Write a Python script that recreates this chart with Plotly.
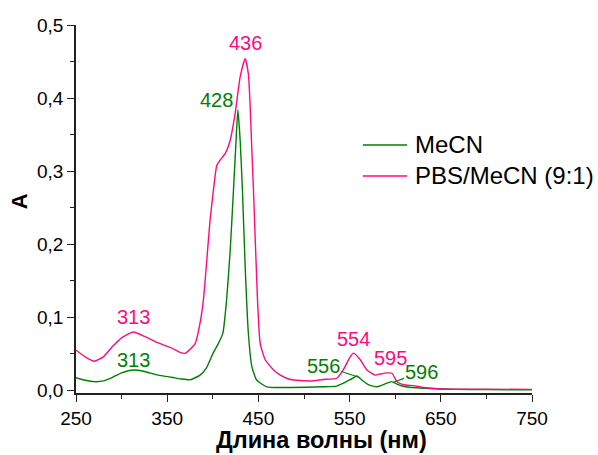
import plotly.graph_objects as go

# ---- data ----
mecn_nm = [250, 260, 270, 280, 290, 300, 313, 325, 340, 355, 365, 375, 386, 393, 400, 406, 411,
           415, 419, 422.5, 425.5, 427.5, 430, 432.5, 435.5, 439, 442.8, 448, 459, 474, 485, 521,
           536, 543, 551, 558, 563.5, 571, 580, 589, 596, 604, 611, 631, 666, 700, 750]
mecn_a = [0.0175, 0.014, 0.012, 0.013, 0.018, 0.024, 0.028, 0.026, 0.021, 0.018, 0.0157, 0.0145,
          0.021, 0.031, 0.050, 0.064, 0.078, 0.122, 0.19, 0.27, 0.342, 0.384, 0.342, 0.274, 0.169,
          0.078, 0.033, 0.0143, 0.005, 0.004, 0.004, 0.005, 0.006, 0.0098, 0.015, 0.0198, 0.0143,
          0.0075, 0.005, 0.009, 0.012, 0.0075, 0.005, 0.003, 0.0015, 0.0012, 0.0008]

pbs_nm = [250, 260, 270, 280, 290, 300, 313, 325, 340, 355, 364, 370, 380.6, 386, 389.7, 393.4,
          397, 400.7, 404.4, 408, 413.5, 419, 424.5, 430, 435.5, 439, 441, 442.8, 444.6, 449, 452,
          457.5, 466.6, 474, 485, 507, 521, 536, 543, 550.6, 554.5, 561.6, 569, 578, 583.5, 591,
          596.4, 602, 611, 620, 631, 649, 671, 750]
pbs_a = [0.055, 0.046, 0.040, 0.046, 0.060, 0.072, 0.080, 0.074, 0.065, 0.058, 0.052, 0.051,
         0.064, 0.092, 0.124, 0.178, 0.233, 0.274, 0.308, 0.315, 0.324, 0.342, 0.379, 0.429, 0.454,
         0.433, 0.388, 0.329, 0.274, 0.124, 0.064, 0.042, 0.028, 0.021, 0.015, 0.013, 0.015, 0.0167,
         0.028, 0.046, 0.051, 0.042, 0.028, 0.021, 0.0225, 0.024, 0.0235, 0.012, 0.0075, 0.0066,
         0.004, 0.002, 0.0016, 0.0015]

series_names = ["MeCN", "PBS/MeCN (9:1)"]

x_ticks = [250, 350, 450, 550, 650, 750]
y_ticks = [0.0, 0.1, 0.2, 0.3, 0.4, 0.5]
y_ticktext = ["0,0", "0,1", "0,2", "0,3", "0,4", "0,5"]

# peak labels: text, x, y
pink_labels = [("436", 435.5, 0.475), ("313", 313, 0.100), ("554", 554.3, 0.0703), ("595", 594.5, 0.044)]
green_labels = [("428", 404.4, 0.397), ("313", 313, 0.0417)]
# labels with leader lines: text, text x, text y, tip x, tip y
green_leader = [("556", 521.3, 0.034, 559.4, 0.0184), ("596", 629.3, 0.0257, 598.2, 0.0112)]

GREEN = "#008000"
PINK = "#FF0A80"
FONT = "Liberation Sans"
AX = "#222222"
colors = [GREEN, PINK]

fig = go.Figure()
fig.add_trace(go.Scatter(x=mecn_nm, y=mecn_a, mode="lines", name=series_names[0],
                         line=dict(color=GREEN, width=1.4, shape="spline", smoothing=0.5)))
fig.add_trace(go.Scatter(x=pbs_nm, y=pbs_a, mode="lines", name=series_names[1],
                         line=dict(color=PINK, width=1.4, shape="spline", smoothing=0.5)))

ann = []
for t, x, y in pink_labels:
    ann.append(dict(text=t, x=x, y=y, xref="x", yref="y", showarrow=False,
                    font=dict(family=FONT, size=20, color=PINK)))
for t, x, y in green_labels:
    ann.append(dict(text=t, x=x, y=y, xref="x", yref="y", showarrow=False,
                    font=dict(family=FONT, size=20, color=GREEN)))
for t, tx, ty, px, py in green_leader:
    ann.append(dict(text=t, x=px, y=py, ax=tx, ay=ty, xref="x", yref="y", axref="x", ayref="y",
                    showarrow=True, arrowhead=0, arrowwidth=1.2, arrowcolor=GREEN,
                    font=dict(family=FONT, size=20, color=GREEN)))
ann.append(dict(text="<b>Длина волны (нм)</b>", x=0.538, y=-0.128, xref="paper", yref="paper",
                showarrow=False, xanchor="center", yanchor="middle",
                font=dict(family=FONT, size=23.5, color="#000")))
ann.append(dict(text="<b>A</b>", x=-0.122, y=0.522, xref="paper", yref="paper", textangle=-90,
                showarrow=False, xanchor="center", yanchor="middle",
                font=dict(family=FONT, size=22, color="#000")))

# hand-drawn legend (paper coordinates)
legend_rows_y = [0.674, 0.590]
legend_text_y = [0.674, 0.592]
shapes = []
for name, col, ly, ty in zip(series_names, colors, legend_rows_y, legend_text_y):
    shapes.append(dict(type="line", xref="paper", yref="paper", x0=0.629, x1=0.726, y0=ly, y1=ly,
                       line=dict(color=col, width=1.5)))
    ann.append(dict(text=name, x=0.739, y=ty, xref="paper", yref="paper", showarrow=False,
                    xanchor="left", yanchor="middle",
                    font=dict(family=FONT, size=24, color="#000")))

fig.update_layout(
    width=598, height=455,
    margin=dict(l=76, r=66, t=25, b=62),
    paper_bgcolor="white", plot_bgcolor="white",
    font=dict(family=FONT, size=19, color="#000"),
    showlegend=False,
    annotations=ann,
    shapes=shapes,
)
fig.update_xaxes(range=[250, 750], tickvals=x_ticks, ticks="outside", ticklen=7, tickwidth=1.3,
                 tickcolor=AX, showline=True, linecolor=AX, linewidth=1.5, showgrid=False,
                 zeroline=False, tickfont=dict(family=FONT, size=19, color="#000"),
                 minor=dict(dtick=50, tick0=250, ticks="outside", ticklen=4, tickwidth=1.3,
                            tickcolor=AX, showgrid=False))
fig.update_yaxes(range=[-0.0035, 0.5], tickvals=y_ticks, ticktext=y_ticktext, ticks="outside",
                 ticklen=7, tickwidth=1.3, tickcolor=AX, showline=True, linecolor=AX,
                 linewidth=1.5, showgrid=False, zeroline=False,
                 tickfont=dict(family=FONT, size=19, color="#000"),
                 minor=dict(dtick=0.05, tick0=0, ticks="outside", ticklen=4, tickwidth=1.3,
                            tickcolor=AX, showgrid=False))

fig.write_html(
    "out.html",
    config={"displayModeBar": False},
    post_script="document.body.style.margin='0px';document.body.style.overflow='hidden';",
)
